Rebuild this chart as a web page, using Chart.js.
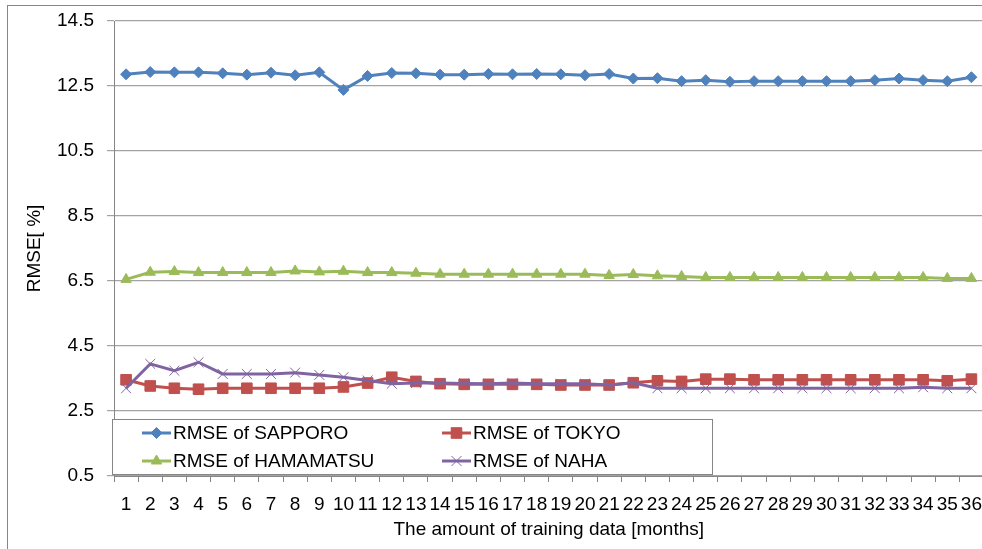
<!DOCTYPE html>
<html>
<head>
<meta charset="utf-8">
<title>RMSE by training data length</title>
<script src="https://cdn.jsdelivr.net/npm/chart.js@4.4.0/dist/chart.umd.min.js"></script>
<style>
  html, body { margin: 0; padding: 0; background: #fff; overflow: hidden; }
  #wrap { position: relative; width: 982px; height: 549px; overflow: hidden; }
  #chart { position: absolute; left: 0; top: 0; }
</style>
</head>
<body>
<div id="wrap"><canvas id="chart" width="992" height="549"></canvas></div>
<script>
// months of training data
const months = Array.from({ length: 36 }, (_, i) => String(i + 1));

const sapporo = [12.86, 12.93, 12.92, 12.92, 12.89, 12.85, 12.91, 12.83, 12.92, 12.38,
  12.81, 12.90, 12.89, 12.85, 12.85, 12.87, 12.86, 12.87, 12.86, 12.83,
  12.87, 12.73, 12.74, 12.65, 12.68, 12.63, 12.65, 12.65, 12.65, 12.65,
  12.65, 12.68, 12.73, 12.68, 12.65, 12.77];

const tokyo = [3.46, 3.27, 3.20, 3.17, 3.20, 3.20, 3.20, 3.20, 3.20, 3.24,
  3.36, 3.54, 3.41, 3.34, 3.32, 3.32, 3.32, 3.32, 3.30, 3.30,
  3.30, 3.37, 3.43, 3.41, 3.48, 3.48, 3.46, 3.46, 3.46, 3.46,
  3.46, 3.46, 3.46, 3.46, 3.43, 3.48];

const hamamatsu = [6.55, 6.77, 6.79, 6.76, 6.76, 6.76, 6.76, 6.81, 6.78, 6.80,
  6.76, 6.76, 6.74, 6.71, 6.71, 6.71, 6.71, 6.71, 6.71, 6.71,
  6.67, 6.70, 6.66, 6.64, 6.61, 6.61, 6.61, 6.61, 6.61, 6.61,
  6.61, 6.61, 6.61, 6.61, 6.58, 6.58];

const naha = [3.20, 3.95, 3.74, 4.00, 3.64, 3.64, 3.64, 3.68, 3.61, 3.54,
  3.44, 3.34, 3.36, 3.36, 3.35, 3.34, 3.36, 3.34, 3.34, 3.34,
  3.30, 3.37, 3.20, 3.20, 3.20, 3.20, 3.20, 3.20, 3.20, 3.20,
  3.20, 3.20, 3.20, 3.23, 3.20, 3.20];

const yTicks = { min: 0.5, max: 14.5, step: 2 };

const FONT = "'Liberation Sans', Arial, sans-serif";
const FS = 19;
const GRID = '#a3a3a3';
const AXIS = '#868686';

const series = (label, data, color, style, radius, order, pbw = 1) => ({
  label, data, order,
  borderColor: color,
  backgroundColor: color,
  borderWidth: 3,
  pointStyle: style,
  pointRadius: radius,
  pointHoverRadius: radius,
  pointBorderWidth: pbw,
  pointBorderColor: color,
  pointBackgroundColor: color,
  tension: 0
});

// legend sits in a box inside the plot, two columns
const boxLegend = {
  id: 'boxLegend',
  afterDraw(chart) {
    const ctx = chart.ctx;
    const x0 = 112, y0 = 419, w = 600, h = 55;
    ctx.save();
    ctx.fillStyle = '#fff';
    ctx.fillRect(x0, y0, w, h);
    ctx.strokeStyle = AXIS;
    ctx.lineWidth = 1;
    ctx.strokeRect(x0 + 0.5, y0 + 0.5, w, h);
    const cols = [142, 442];
    const rows = [433, 461];
    ctx.font = FS + 'px ' + FONT;
    ctx.textBaseline = 'middle';
    chart.data.datasets.forEach((ds, i) => {
      const lx = cols[i % 2], ly = rows[Math.floor(i / 2)];
      ctx.strokeStyle = ds.borderColor;
      ctx.lineWidth = 3;
      ctx.beginPath();
      ctx.moveTo(lx, ly);
      ctx.lineTo(lx + 29, ly);
      ctx.stroke();
      ctx.fillStyle = ds.borderColor;
      ctx.lineWidth = ds.pointBorderWidth;
      Chart.helpers.drawPoint(ctx, {
        pointStyle: ds.pointStyle,
        radius: ds.pointRadius,
        borderWidth: ds.pointBorderWidth,
        rotation: 0
      }, lx + 14.5, ly);
      ctx.fillStyle = '#000';
      ctx.fillText(ds.label, lx + 31, ly + 1);
    });
    ctx.restore();
  }
};

// thin frame round the whole chart
const frame = {
  id: 'frame',
  beforeDraw(chart) {
    const ctx = chart.ctx;
    ctx.save();
    ctx.strokeStyle = AXIS;
    ctx.lineWidth = 1;
    ctx.strokeRect(7.5, 5.5, 1000, 560);
    ctx.restore();
  }
};

new Chart(document.getElementById('chart').getContext('2d'), {
  type: 'line',
  data: {
    labels: months,
    datasets: [
      series('RMSE of SAPPORO', sapporo, '#4f81bd', 'rectRot', 5.5, 3),
      series('RMSE of TOKYO', tokyo, '#c0504d', 'rect', 7.5, 2),
      series('RMSE of HAMAMATSU', hamamatsu, '#9bbb59', 'triangle', 6, 1),
      series('RMSE of NAHA', naha, '#8064a2', 'crossRot', 7, 0, 1)
    ]
  },
  options: {
    responsive: false,
    animation: false,
    events: [],
    layout: { padding: { left: 20, top: 21, right: 8, bottom: 0 } },
    plugins: {
      legend: { display: false },
      tooltip: { enabled: false }
    },
    scales: {
      x: {
        offset: true,
        grid: {
          offset: true,
          drawOnChartArea: false,
          drawTicks: true,
          tickLength: 6,
          color: AXIS
        },
        border: { color: AXIS, width: 1 },
        ticks: {
          autoSkip: false,
          maxRotation: 0,
          minRotation: 0,
          padding: 11,
          color: '#000',
          font: { family: FONT, size: FS }
        },
        title: {
          display: true,
          text: 'The amount of training data [months]',
          color: '#000',
          font: { family: FONT, size: FS },
          padding: { top: 0, bottom: 8 }
        },
        afterFit(scale) {
          scale.height = 73;
          scale.paddingLeft = 0;
          scale.paddingRight = 0;
        }
      },
      y: {
        min: yTicks.min,
        max: yTicks.max,
        ticks: {
          stepSize: yTicks.step,
          padding: 13,
          color: '#000',
          font: { family: FONT, size: FS }
        },
        grid: { color: GRID, lineWidth: 1.2, tickLength: 7 },
        border: { color: AXIS, width: 1 },
        title: {
          display: true,
          text: 'RMSE[ %]',
          color: '#000',
          font: { family: FONT, size: FS },
          padding: { top: 3, bottom: 0 }
        },
        afterFit(scale) {
          scale.width = 94;
          scale.paddingTop = 0;
          scale.paddingBottom = 0;
        }
      }
    }
  },
  plugins: [frame, boxLegend]
});
</script>
</body>
</html>
